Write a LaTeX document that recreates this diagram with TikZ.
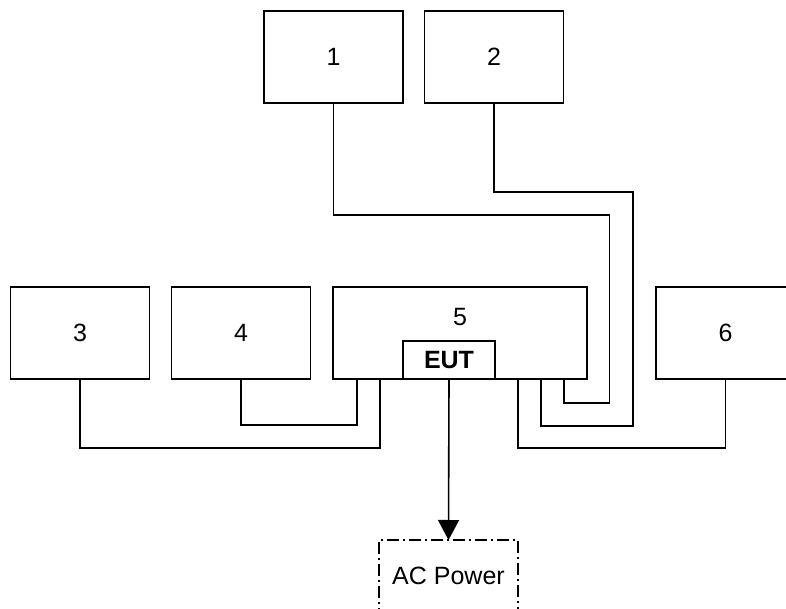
\documentclass[tikz,border=0pt]{standalone}
\usepackage{fontspec}
\setmainfont{Liberation Sans}
\usetikzlibrary{arrows.meta}
\begin{document}
\begin{tikzpicture}[x=1pt,y=-1pt,line width=1.3pt,
  box/.style={draw,minimum width=139pt,minimum height=92pt,inner sep=0pt,outer sep=0pt,font=\fontsize{25}{30}\selectfont},
  eutbox/.style={draw,minimum width=92pt,minimum height=38pt,inner sep=0pt,outer sep=0pt,font=\fontsize{25}{30}\selectfont\bfseries},
  acbox/.style={draw,dash pattern=on 12pt off 4pt on 2pt off 4pt,minimum width=139pt,minimum height=72pt,inner sep=0pt,outer sep=0pt,font=\fontsize{25}{30}\selectfont}]
\useasboundingbox (0,0) rectangle (786,609);
\clip (0,0) rectangle (786,609);
\node[box] (b1) at (333.5,57) {1};
\node[box] (b2) at (494,57) {2};
\node[box] (b3) at (80,333) {3};
\node[box] (b4) at (241,333) {4};
\node[box,minimum width=254pt,anchor=north] (b5) at (460,287) {};
\node[font=\fontsize{25}{30}\selectfont] (n5) at (460,317) {5};
\node[box] (b6) at (725.5,333) {6};
\node[eutbox] (eut) at (449,360) {EUT};
\node[acbox] (ac) at (448.5,576) {AC Power};
\draw (b3.south) -- ++(0,69) -| ([xshift=47pt]b5.south west);
\draw (b4.south) -- ++(0,46) -| ([xshift=24pt]b5.south west);
\draw (b1.south) -- ++(0,112) -| ++(276,188) -| ([xshift=-23pt]b5.south east);
\draw (b2.south) -- ++(0,89) -| ++(139,234) -| ([xshift=-46pt]b5.south east);
\draw (b6.south) -- ++(0,69) -| ([xshift=-69pt]b5.south east);
\draw[line width=1.6pt,-{Triangle[width=21pt,length=20pt]}] (eut.south) -- (ac.north);
\end{tikzpicture}
\end{document}
